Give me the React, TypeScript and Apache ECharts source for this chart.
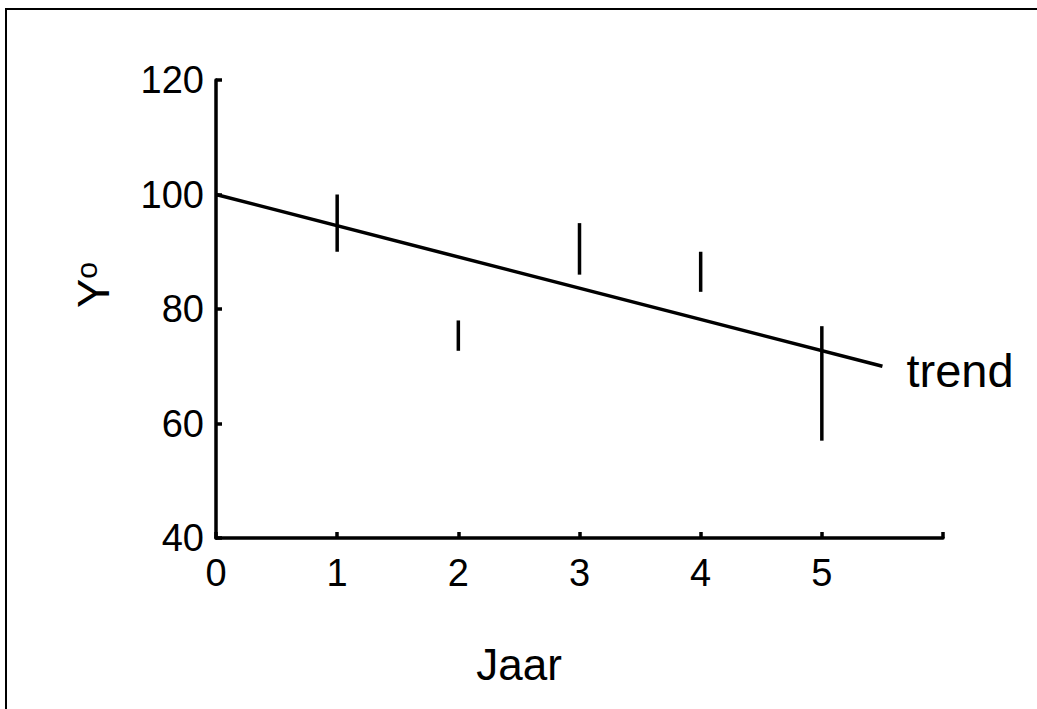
import React, { useEffect, useRef } from "react";
import * as echarts from "echarts";

const years = [1, 2, 3, 4, 5];
const lows = [90, 72.7, 86, 83, 57];
const highs = [100, 78, 95, 90, 77];
const trendX = [0, 5.5];
const trendY = [100, 70];
const xTicks = [0, 1, 2, 3, 4, 5];
const yTicks = [40, 60, 80, 100, 120];
const trendLabel = "trend";
const xName = "Jaar";

const FONT = "Liberation Sans, Arial, Helvetica, sans-serif";

export default function App() {
  const ref = useRef<HTMLDivElement>(null);
  useEffect(() => {
    document.body.style.margin = "0";
    const chart = echarts.init(ref.current!, null, { renderer: "svg" });
    const barData = years.map((x, i) => [x, lows[i], highs[i]]);
    const trendData = trendX.map((x, i) => [x, trendY[i]]);
    chart.setOption({
      animation: false,
      backgroundColor: "#fff",
      grid: { left: 216, top: 80, right: 94, bottom: 171 },
      xAxis: {
        type: "value",
        min: 0,
        max: 6,
        interval: 1,
        splitLine: { show: false },
        axisLine: { show: true, onZero: false, lineStyle: { color: "#000", width: 3.5 } },
        axisTick: { show: true, inside: true, length: 6, lineStyle: { color: "#000", width: 3.5 } },
        axisLabel: {
          fontSize: 38,
          fontFamily: FONT,
          color: "#000",
          margin: 16,
          formatter: (v: number) => (xTicks.includes(v) ? String(v) : ""),
        },
      },
      yAxis: {
        type: "value",
        min: yTicks[0],
        max: yTicks[yTicks.length - 1],
        interval: 20,
        splitLine: { show: false },
        axisLine: { show: true, onZero: false, lineStyle: { color: "#000", width: 3.5 } },
        axisTick: { show: true, inside: true, length: 6, lineStyle: { color: "#000", width: 3.5 } },
        axisLabel: { fontSize: 38, fontFamily: FONT, color: "#000", margin: 12 },
      },
      graphic: [
        {
          type: "rect",
          shape: { x: 6, y: 9, width: 1200, height: 900 },
          style: { fill: "none", stroke: "#000", lineWidth: 2 },
          silent: true,
        },
        {
          type: "text",
          x: 93,
          y: 285,
          rotation: Math.PI / 2,
          style: {
            text: "{a|Y}{b|o}",
            align: "center",
            verticalAlign: "middle",
            fontFamily: FONT,
            fill: "#000",
            rich: {
              a: { fontSize: 44, fontFamily: FONT, fill: "#000", lineHeight: 44 },
              b: { fontSize: 30, fontFamily: FONT, fill: "#000", verticalAlign: "top", lineHeight: 30 },
            },
          },
        },
        {
          type: "text",
          x: 519,
          y: 664,
          style: {
            text: xName,
            align: "center",
            verticalAlign: "middle",
            fontSize: 44,
            fontFamily: FONT,
            fill: "#000",
          },
        },
      ],
      series: [
        {
          type: "line",
          data: trendData,
          showSymbol: false,
          symbol: "none",
          lineStyle: { color: "#000", width: 3.5 },
          endLabel: {
            show: true,
            distance: 24,
            formatter: trendLabel,
            fontSize: 47,
            fontFamily: FONT,
            color: "#000",
            offset: [0, 4],
          },
          z: 3,
        },
        {
          type: "custom",
          data: barData,
          encode: { x: 0, y: [1, 2] },
          renderItem: (params: any, api: any) => {
            const x = api.value(0);
            const p1 = api.coord([x, api.value(1)]);
            const p2 = api.coord([x, api.value(2)]);
            return {
              type: "line",
              shape: { x1: p1[0], y1: p1[1], x2: p2[0], y2: p2[1] },
              style: { stroke: "#000", lineWidth: 3.5 },
            };
          },
          z: 4,
        },
      ],
    });
    return () => chart.dispose();
  }, []);
  return <div ref={ref} style={{ width: 1037, height: 709 }} />;
}
